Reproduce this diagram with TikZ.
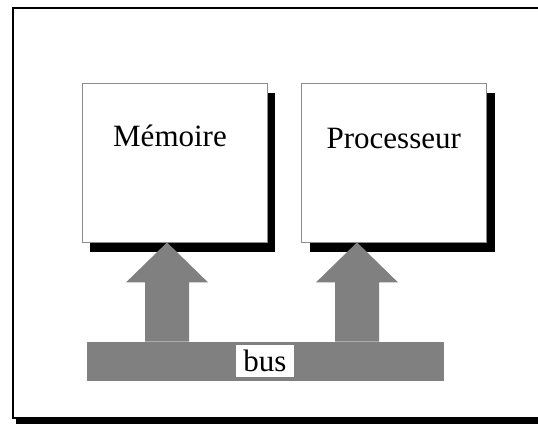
\documentclass[tikz,border=0pt]{standalone}
\usepackage{fontspec}
\setmainfont{Liberation Serif}
\usetikzlibrary{positioning,calc,shadows}
\definecolor{busgray}{RGB}{128,128,128}

\begin{document}
\begin{tikzpicture}[x=1pt,y=-1pt,
      unitbox/.style={
         draw=black!45,
         line width=0.8pt,
         fill=white,
         inner sep=0pt,
         minimum width=185pt,
         minimum height=159pt,
         drop shadow={fill=black,opacity=1,shadow xshift=8pt,shadow yshift=-10pt}},
      unittext/.style={anchor=base,inner sep=0pt,font=\fontsize{31}{34}\selectfont},
      busbar/.style={fill=busgray,inner sep=0pt,minimum width=357pt,minimum height=39pt},
      buslabel/.style={fill=white,inner sep=0pt,minimum width=58pt,minimum height=32pt,
         font=\fontsize{31}{34}\selectfont},
      busarrow/.style={fill=busgray}
      ]
      \useasboundingbox (0,0) rectangle (538,425);
      % outer frame, its right side runs off the page
      \draw[line width=2pt,fill=white,
         drop shadow={fill=black,opacity=1,shadow xshift=3pt,shadow yshift=-6pt}]
         (12.6,8) rectangle (560,418);

      \node[unitbox] (mem) at (174.5,162.5) {};
      \node[unitbox,right=34pt of mem] (proc) {};
      \node[unittext] (memtext) at ([shift={(-4.5,64)}]mem.north) {Mémoire};
      \node[unittext] (proctext) at ([shift={(-0.5,66)}]proc.north) {Processeur};

      \node[busbar] (bus) at (265,361.2) {};
      \node[buslabel] (buslbl) at (bus.center) {bus};

    \foreach \u/\x in {mem/167,proc/357}% unit/arrow axis
       \fill[busarrow] (bus.north -| {\x-22},0) -- ($(\u.south -| \x,0)+(-22,40)$)
          -- ($(\u.south -| \x,0)+(-41,40)$) -- (\u.south -| \x,0)
          -- ($(\u.south -| \x,0)+(41,40)$) -- ($(\u.south -| \x,0)+(22,40)$)
          -- (bus.north -| {\x+22},0) -- cycle;

     \end{tikzpicture}
\end{document}
